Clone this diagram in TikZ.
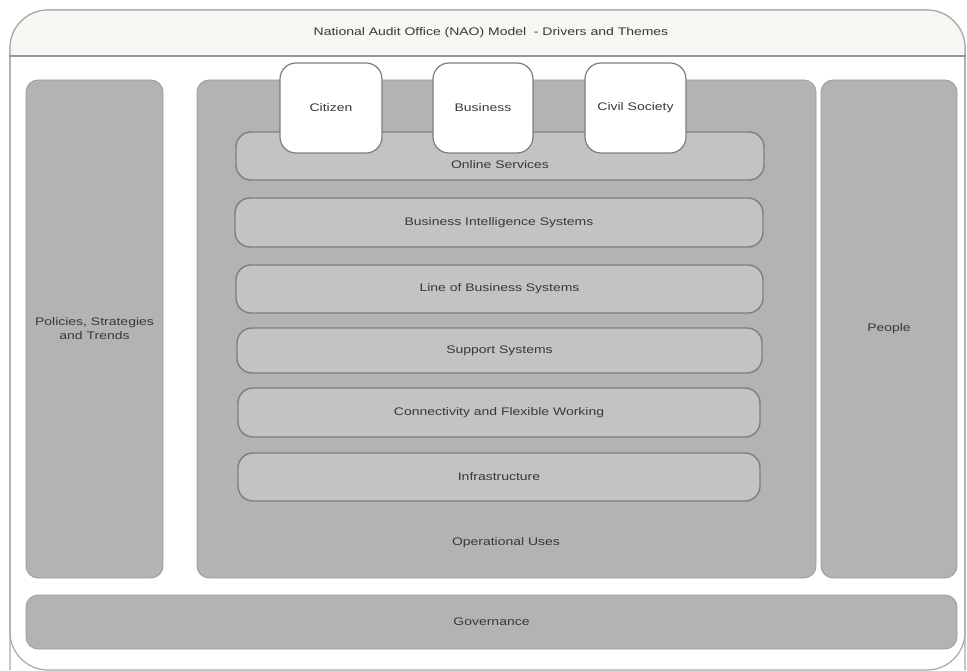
\documentclass[tikz,border=0pt]{standalone}
\usepackage{fontspec}
\setmainfont[FakeStretch=1.27]{Liberation Sans}
\definecolor{panelfill}{HTML}{B3B3B3}
\definecolor{paneldraw}{HTML}{9C9C9C}
\definecolor{layerfill}{HTML}{C3C3C3}
\definecolor{layerdraw}{HTML}{7E7E7E}
\definecolor{bandfill}{HTML}{F6F6F3}
\definecolor{framedraw}{HTML}{A8A8A8}
\definecolor{txt}{HTML}{383838}
\tikzset{
  panel/.style={draw=paneldraw, fill=panelfill, line width=0.8pt, rounded corners=12pt, inner sep=0pt, text=txt, align=center, font=\fontsize{11}{14}\selectfont},
  layer/.style={draw=layerdraw, fill=layerfill, line width=1.4pt, rounded corners=15pt, inner sep=0pt, text=txt, font=\fontsize{11}{14}\selectfont},
  actor/.style={draw=layerdraw, fill=white, line width=1.2pt, rounded corners=16pt, inner sep=0pt, minimum width=101pt, minimum height=90pt, text=txt, font=\fontsize{11}{14}\selectfont},
  lbl/.style={inner sep=0pt, text=txt, font=\fontsize{11}{14}\selectfont}
}
\begin{document}
\begin{tikzpicture}[x=1pt,y=-1pt]
\useasboundingbox (0,0) rectangle (967,671);
% outer frame
\node[draw=framedraw, fill=white, line width=1.2pt, rounded corners=38pt, minimum width=955pt, minimum height=660pt, inner sep=0pt] (frame) at (487.5,340) {};
\begin{scope}
  \clip[rounded corners=38pt] (10,10) rectangle (965,670);
  \fill[bandfill] (10,10) rectangle (965,56);
\end{scope}
\draw[framedraw, line width=1.2pt, rounded corners=38pt] (10,670) -- (10,10) -- (965,10) -- (965,670);
\draw[framedraw!90!black, line width=2pt] (frame.west |- 0,56) coordinate (bl) -- (frame.east |- 0,56) coordinate (br);
\node[lbl] (title) at (491,33) {National Audit Office (NAO) Model \ - Drivers and Themes};
% side and central panels
\node[panel, minimum width=137pt, minimum height=498pt] (policies) at (94.5,329) {Policies, Strategies\\and Trends};
\node[panel, minimum width=619pt, minimum height=498pt] (central) at (506.5,329) {};
\node[panel, minimum width=136pt, minimum height=498pt] (people) at (889,329) {People};
\node[panel, minimum width=931pt, minimum height=54pt] (gov) at (491.5,622) {Governance};
\node[lbl] (ops) at (506,543) {Operational Uses};
% layers
\node[layer, minimum width=528pt, minimum height=48pt] (online) at (500,156) {};
\node[lbl] (onlinetxt) at (500,165) {Online Services};
\node[layer, minimum width=528pt, minimum height=49pt] (bi) at (499,222.5) {Business Intelligence Systems};
\node[layer, minimum width=527pt, minimum height=48pt] (lob) at (499.5,289) {Line of Business Systems};
\node[layer, minimum width=525pt, minimum height=45pt] (support) at (499.5,350.5) {Support Systems};
\node[layer, minimum width=522pt, minimum height=49pt] (conn) at (499,412.5) {Connectivity and Flexible Working};
\node[layer, minimum width=522pt, minimum height=48pt] (infra) at (499,477) {Infrastructure};
% actors
\node[actor, minimum width=102pt] (citizen) at (331,108) {Citizen};
\node[actor, minimum width=100pt] (business) at (483,108) {Business};
\node[actor] (civil) at (635.5,108) {Civil Society};
\end{tikzpicture}
\end{document}
